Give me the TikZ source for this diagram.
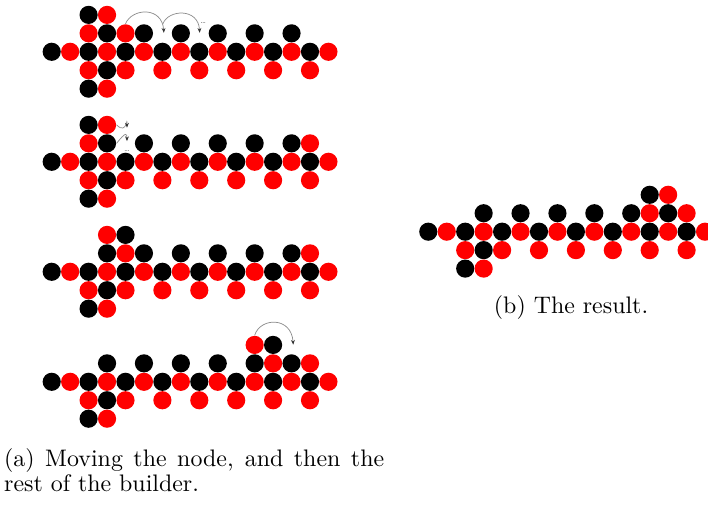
\documentclass[tikz,border=0pt]{standalone}
\usetikzlibrary{arrows.meta}
\tikzset{
  bk/.style={circle, fill=black, inner sep=0pt, minimum size=7.6pt},
  rd/.style={circle, fill=red, inner sep=0pt, minimum size=7.6pt},
  hop/.style={draw=black!45, line width=0.3pt, -{Stealth[length=2pt,width=1.6pt,black!80]}},
  more/.style={font=\tiny, scale=0.6, inner sep=0pt},
  captxt/.style={inner sep=0pt, font={\fontsize{10}{10.5}\selectfont}}
}
\newcommand{\beadrow}[1]{%
  \foreach \c in {0,2,...,14} \node[bk] (#1-m\c) at (\c,0) {};
  \foreach \c in {1,3,...,15} \node[rd] (#1-m\c) at (\c,0) {};
  \foreach \c in {3,5,...,13} \node[bk] (#1-u\c) at (\c,1) {};
  \foreach \c in {2,4,...,14} \node[rd] (#1-d\c) at (\c,-1) {};
  \node[bk] (#1-d3) at (3,-1) {};
  \node[bk] (#1-dd2) at (2,-2) {};
  \node[rd] (#1-dd3) at (3,-2) {};
}
\begin{document}
\begin{tikzpicture}[x=7.72pt, y=7.72pt]
  \useasboundingbox (0,0) rectangle (38.374,27.317);

  \begin{scope}[shift={(2.802,24.51)}]
    \beadrow{p1}
    \node[bk] (p1-uu2) at (2,2) {};
    \node[rd] (p1-uu3) at (3,2) {};
    \node[rd] (p1-u2) at (2,1) {};
    \node[rd] (p1-u4) at (4,1) {};
    \coordinate (p1-t6) at (6.08,1.03);
    \coordinate (p1-s6) at (6.02,1.5);
    \coordinate (p1-t8) at (8.02,1.03);
    \draw[hop] (p1-u4.north) .. controls (4.35,2.37) and (5.98,2.48) .. (p1-t6);
    \draw[hop] (p1-s6) .. controls (6.3,2.3) and (7.95,2.4) .. (p1-t8);
    \node[more] (p1-more) at (8.21,1.54) {\dots};
  \end{scope}

  \begin{scope}[shift={(2.802,18.548)}]
    \beadrow{p2}
    \node[bk] (p2-uu2) at (2,2) {};
    \node[rd] (p2-uu3) at (3,2) {};
    \node[rd] (p2-u2) at (2,1) {};
    \node[rd] (p2-u14) at (14,1) {};
    \coordinate (p2-t4a) at (4.08,1.85);
    \coordinate (p2-t4b) at (4.08,1.12);
    \draw[hop] (p2-uu3.east) .. controls (4.1,1.4) and (4.08,2.6) .. (p2-t4a);
    \draw[hop] (p2-u3.east) .. controls (4.03,1.65) and (4.08,1.55) .. (p2-t4b);
    \node[more] (p2-more) at (4.08,0.58) {\dots};
  \end{scope}

  \begin{scope}[shift={(2.802,12.586)}]
    \beadrow{p3}
    \node[rd] (p3-uu3) at (3,2) {};
    \node[bk] (p3-uu4) at (4,2) {};
    \node[rd] (p3-u4) at (4,1) {};
    \node[rd] (p3-u14) at (14,1) {};
  \end{scope}

  \begin{scope}[shift={(2.802,6.623)}]
    \beadrow{p4}
    \node[rd] (p4-uu11) at (11,2) {};
    \node[bk] (p4-uu12) at (12,2) {};
    \node[rd] (p4-u12) at (12,1) {};
    \node[rd] (p4-u14) at (14,1) {};
    \coordinate (p4-t13) at (13.09,2.01);
    \draw[hop] (p4-uu11.north) .. controls (11.3,3.5) and (13.0,3.55) .. (p4-t13);
  \end{scope}

  \begin{scope}[shift={(23.214,14.759)}]
    \beadrow{pb}
    \node[bk] (pb-uu12) at (12,2) {};
    \node[rd] (pb-uu13) at (13,2) {};
    \node[rd] (pb-u12) at (12,1) {};
    \node[rd] (pb-u14) at (14,1) {};
  \end{scope}

  \node[captxt, anchor=north west, text width=159pt, align=justify] (capa) at (0.2,3.03)
    {(a) Moving the node, and then the rest of the builder.};
  \node[captxt, anchor=base] (capb) at (30.95,10.3) {(b) The result.};
\end{tikzpicture}
\end{document}
